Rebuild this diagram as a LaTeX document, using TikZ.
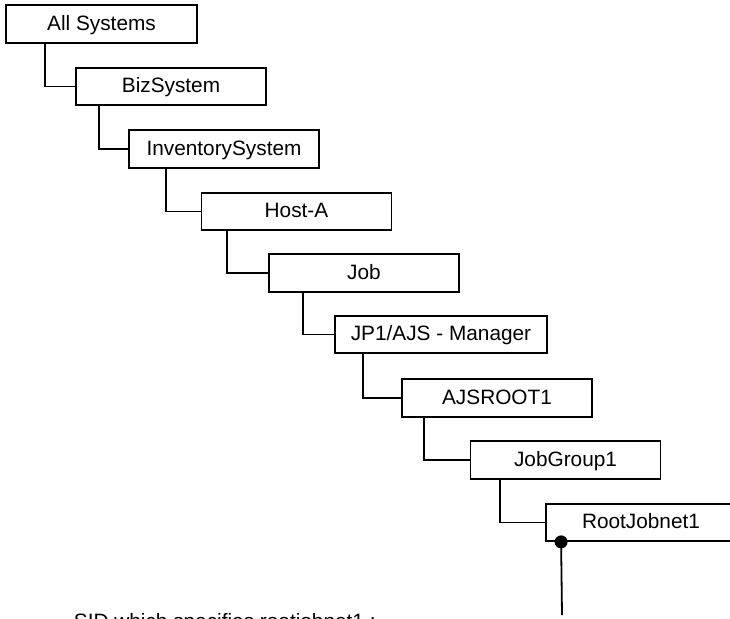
\documentclass[tikz,border=0pt]{standalone}
\usepackage{fontspec}
\setmainfont{Liberation Sans}
\begin{document}
\begin{tikzpicture}[x=1pt,y=-1pt,
  line width=1.8pt,
  treebox/.style={draw, rectangle, inner sep=0pt, minimum width=190pt,
    minimum height=37pt, text height=14.7pt, text depth=2pt,
    font=\fontsize{20.8}{24}\selectfont},
  link/.style={draw, line width=1.8pt}]
\useasboundingbox (0,0) rectangle (730,618);
\clip (0,0) rectangle (730,618);

% hierarchy boxes, each one step further right and down
\node[treebox, minimum width=191pt, minimum height=38pt] (all) at (101.5,24) {All Systems};
\node[treebox] (biz)  at (171,86.5)  {BizSystem};
\node[treebox, minimum height=38pt] (inv)  at (224,149)   {InventorySystem};
\node[treebox] (host) at (296.5,211.5) {Host-A};
\node[treebox, minimum height=38pt] (job)  at (364,273)   {Job};
\node[treebox, minimum width=212pt] (mgr) at (441,334.5) {JP1/AJS - Manager};
\node[treebox, minimum height=38pt] (root) at (497,398)   {AJSROOT1};
\node[treebox, minimum height=38pt] (grp)  at (565.5,460) {JobGroup1};
\node[treebox] (jnet) at (641,522.5) {RootJobnet1};

% elbow connectors from parent to child
\draw[link] ([xshift=40pt]all.south west)  |- (biz.west);
\draw[link] ([xshift=24pt]biz.south west)  |- (inv.west);
\draw[link] ([xshift=38pt]inv.south west)  |- (host.west);
\draw[link] ([xshift=26pt]host.south west) |- (job.west);
\draw[link] ([xshift=35pt]job.south west)  |- (mgr.west);
\draw[link] ([xshift=29pt]mgr.south west)  |- (root.west);
\draw[link] ([xshift=23pt]root.south west) |- (grp.west);
\draw[link] ([xshift=30pt]grp.south west)  |- (jnet.west);

% pointer from the root jobnet down to its SID note
\coordinate (sidtop) at ([xshift=16pt]jnet.south west);
\coordinate (sidend) at (562,615);
\draw[link] (sidtop) -- (sidend);
\fill (sidtop) circle (6.5pt);

\node[anchor=base west, inner sep=0pt, font=\fontsize{20.8}{24}\selectfont]
  (sidnote) at (73,628) {SID which specifies rootjobnet1 :};
\end{tikzpicture}
\end{document}
